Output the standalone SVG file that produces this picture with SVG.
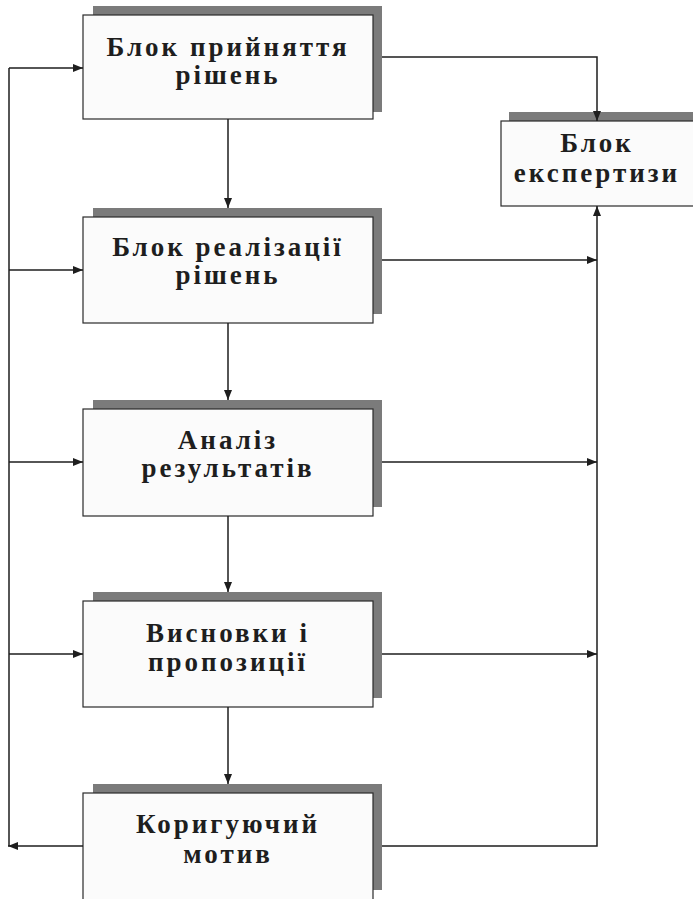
<svg xmlns="http://www.w3.org/2000/svg" width="693" height="899" viewBox="0 0 693 899">
  <style>
    .box { fill: #fbfbfb; stroke: #2a2a2a; stroke-width: 1.2; }
    .shadow { fill: #7b7b7b; }
    .lbl { font-family: "Liberation Serif", "Times New Roman", serif; font-weight: bold; font-size: 27px; letter-spacing: 3px; fill: #1e1e1e; text-anchor: middle; }
    .wire { fill: none; stroke: #1e1e1e; stroke-width: 1.5; }
  </style>
  <defs>
    <marker id="arrow" viewBox="0 0 10 8" refX="10" refY="4" markerWidth="10" markerHeight="8" markerUnits="userSpaceOnUse" orient="auto">
      <path d="M0,0 L10,4 L0,8 Z" fill="#1e1e1e"/>
    </marker>
  </defs>

  <rect width="693" height="899" fill="#ffffff"/>

  <!-- decision block -->
  <g id="decision">
    <rect class="shadow" x="93" y="6" width="289" height="106"/>
    <rect class="box" x="83" y="15" width="290" height="104"/>
    <text class="lbl" x="228" y="56">Блок прийняття</text>
    <text class="lbl" x="228" y="84">рішень</text>
  </g>

  <!-- expertise block -->
  <g id="expertise">
    <rect class="shadow" x="509" y="112" width="190" height="90"/>
    <rect class="box" x="501" y="121" width="200" height="85"/>
    <text class="lbl" x="597" y="152">Блок</text>
    <text class="lbl" x="597" y="182">експертизи</text>
  </g>

  <!-- implementation block -->
  <g id="implementation">
    <rect class="shadow" x="93" y="208" width="289" height="106"/>
    <rect class="box" x="83" y="217" width="290" height="106"/>
    <text class="lbl" x="228" y="256">Блок реалізації</text>
    <text class="lbl" x="228" y="284">рішень</text>
  </g>

  <!-- analysis block -->
  <g id="analysis">
    <rect class="shadow" x="93" y="400" width="289" height="107"/>
    <rect class="box" x="83" y="409" width="290" height="107"/>
    <text class="lbl" x="228" y="449">Аналіз</text>
    <text class="lbl" x="228" y="477">результатів</text>
  </g>

  <!-- conclusions block -->
  <g id="conclusions">
    <rect class="shadow" x="93" y="592" width="289" height="106"/>
    <rect class="box" x="83" y="601" width="290" height="106"/>
    <text class="lbl" x="228" y="642">Висновки і</text>
    <text class="lbl" x="228" y="671">пропозиції</text>
  </g>

  <!-- correction block -->
  <g id="correction">
    <rect class="shadow" x="93" y="784" width="289" height="106"/>
    <rect class="box" x="83" y="793" width="290" height="108"/>
    <text class="lbl" x="228" y="833">Коригуючий</text>
    <text class="lbl" x="228" y="863">мотив</text>
  </g>

  <g id="connectors">
    <!-- main chain -->
    <line class="wire" x1="228" y1="119" x2="228" y2="208" marker-end="url(#arrow)"/>
    <line class="wire" x1="228" y1="323" x2="228" y2="400" marker-end="url(#arrow)"/>
    <line class="wire" x1="228" y1="516" x2="228" y2="592" marker-end="url(#arrow)"/>
    <line class="wire" x1="228" y1="707" x2="228" y2="784" marker-end="url(#arrow)"/>

    <!-- feedback loop on the left -->
    <line class="wire" x1="83" y1="846" x2="8" y2="846" stroke-width="2" marker-end="url(#arrow)"/>
    <line class="wire" x1="9" y1="846" x2="9" y2="68"/>
    <line class="wire" x1="9" y1="68" x2="83" y2="68" marker-end="url(#arrow)"/>
    <line class="wire" x1="9" y1="270" x2="83" y2="270" marker-end="url(#arrow)"/>
    <line class="wire" x1="9" y1="462" x2="83" y2="462" marker-end="url(#arrow)"/>
    <line class="wire" x1="9" y1="654" x2="83" y2="654" marker-end="url(#arrow)"/>

    <!-- outputs to expertise -->
    <polyline class="wire" points="382,57 597,57 597,121" marker-end="url(#arrow)"/>
    <line class="wire" x1="382" y1="260" x2="597" y2="260" marker-end="url(#arrow)"/>
    <line class="wire" x1="382" y1="462" x2="597" y2="462" marker-end="url(#arrow)"/>
    <line class="wire" x1="382" y1="654" x2="597" y2="654" marker-end="url(#arrow)"/>
    <polyline class="wire" points="382,846 597,846 597,206" stroke-width="1.8" marker-end="url(#arrow)"/>
  </g>
</svg>
